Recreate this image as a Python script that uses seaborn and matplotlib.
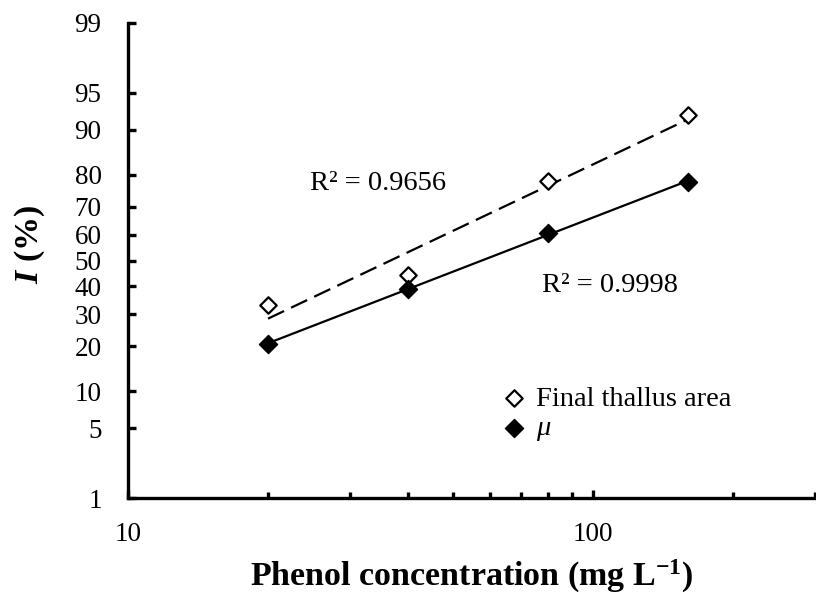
import numpy as np
import pandas as pd
import matplotlib
matplotlib.use("Agg")
import matplotlib.pyplot as plt
import seaborn as sns
from matplotlib.ticker import FixedLocator, NullFormatter, FixedFormatter
from statistics import NormalDist

# ---- data ----
concentration = [20, 40, 80, 160]
final_area = [33.1, 44.4, 78.2, 92.3]
mu_vals = [20.7, 39.0, 60.6, 77.9]
r2_labels = ["R² = 0.9656", "R² = 0.9998"]
y_ticks = [1, 5, 10, 20, 30, 40, 50, 60, 70, 80, 90, 95, 99]
x_major = [10, 100]
x_minor = [20, 30, 40, 50, 60, 70, 80, 90, 200, 300]

sns.set_style("ticks")
plt.rcParams['font.family'] = ['Liberation Serif', 'DejaVu Serif']
plt.rcParams['text.color'] = 'black'
plt.rcParams['axes.labelcolor'] = 'black'
plt.rcParams['axes.edgecolor'] = 'black'
plt.rcParams['xtick.color'] = 'black'
plt.rcParams['ytick.color'] = 'black'
plt.rcParams['mathtext.fontset'] = 'custom'
plt.rcParams['mathtext.rm'] = 'Liberation Serif'
plt.rcParams['mathtext.it'] = 'Liberation Serif:italic'
plt.rcParams['mathtext.bf'] = 'Liberation Serif:bold'
try:
    plt.rcParams['mathtext.bfit'] = 'Liberation Serif:bold:italic'
    has_bfit = True
except KeyError:
    has_bfit = False

_nd = NormalDist()
_inv = np.vectorize(lambda q: _nd.inv_cdf(q) if np.isfinite(q) else np.nan, otypes=[float])
_cdf = np.vectorize(lambda z: _nd.cdf(z) if np.isfinite(z) else np.nan, otypes=[float])

def fwd(p):
    p = np.asarray(p, dtype=float)
    q = np.clip(p / 100.0, 1e-9, 1 - 1e-9)
    return _inv(q)

def inv(z):
    z = np.asarray(z, dtype=float)
    return _cdf(z) * 100.0

fig = plt.figure(figsize=(8.16, 6.01), dpi=100)
ax = fig.add_axes([128/816, 1 - 498/601, (815-128)/816, (498-23)/601])

ax.set_xscale('log')
ax.set_yscale('function', functions=(fwd, inv))

df = pd.DataFrame({"conc": concentration, "area": final_area, "mu": mu_vals})

# trend lines (probit vs log10 concentration)
def fit_line(y):
    lx = np.log10(df["conc"].values)
    z = fwd(np.asarray(y))
    b, a = np.polyfit(lx, z, 1)
    xs = np.array([min(concentration), max(concentration)], dtype=float)
    return pd.DataFrame({"x": xs, "y": inv(a + b * np.log10(xs))})

fa = fit_line(final_area)
fm = fit_line(mu_vals)
sns.lineplot(data=fa, x="x", y="y", ax=ax, color="black", lw=1.6,
             linestyle=(0, (8, 3.5)), legend=False)
sns.lineplot(data=fm, x="x", y="y", ax=ax, color="black", lw=1.6, legend=False)

sns.scatterplot(data=df, x="conc", y="area", ax=ax, marker="D", s=70,
                facecolor="white", edgecolor="black", linewidth=1.6,
                label="Final thallus area", zorder=5)
sns.scatterplot(data=df, x="conc", y="mu", ax=ax, marker="D", s=85,
                color="black", edgecolor="black", linewidth=1,
                label=r"$\mu$", zorder=5)

ax.set_xlim(10, 300)
ax.set_ylim(1, 99)

ax.yaxis.set_major_locator(FixedLocator(y_ticks))
ax.yaxis.set_major_formatter(FixedFormatter([str(t) for t in y_ticks]))
ax.yaxis.set_minor_locator(FixedLocator([]))
ax.xaxis.set_major_locator(FixedLocator(x_major))
ax.xaxis.set_major_formatter(FixedFormatter([str(t) for t in x_major]))
ax.xaxis.set_minor_locator(FixedLocator(x_minor))
ax.xaxis.set_minor_formatter(NullFormatter())

for s in ["top", "right"]:
    ax.spines[s].set_visible(False)
for s in ["left", "bottom"]:
    ax.spines[s].set_linewidth(2.4)
    ax.spines[s].set_capstyle('projecting')

ax.tick_params(axis='y', which='major', direction='in', length=5.5, width=2.4,
               labelsize=19.5, pad=19)
ax.tick_params(axis='x', which='major', direction='in', length=5.5, width=2.4,
               labelsize=19.5, pad=17)
ax.tick_params(axis='x', which='minor', direction='in', length=4, width=2.4)

ax.set_xlabel(r"Phenol concentration (mg L$^{\mathbf{-1}}$)", fontsize=24.5,
              fontweight='bold', labelpad=8)
ylab = r"$\mathbfit{I}$ (%)" if has_bfit else r"$\mathit{I}$ (%)"
ax.set_ylabel(ylab, fontsize=24.5, fontweight='bold')
ax.yaxis.set_label_coords(-0.118, 0.533)

ax.text(34.5, 77.6, r2_labels[0], fontsize=20.5, ha='center', va='center')
ax.text(108.8, 40.5, r2_labels[1], fontsize=20.5, ha='center', va='center')

leg = ax.legend(loc='upper left', bbox_to_anchor=(503/816, 1 - 386/601),
                bbox_transform=fig.transFigure, frameon=False, fontsize=20.5,
                handlelength=0.8, handletextpad=0.35, labelspacing=0.12,
                borderpad=0, borderaxespad=0)

fig.savefig("out.png", dpi=100)
